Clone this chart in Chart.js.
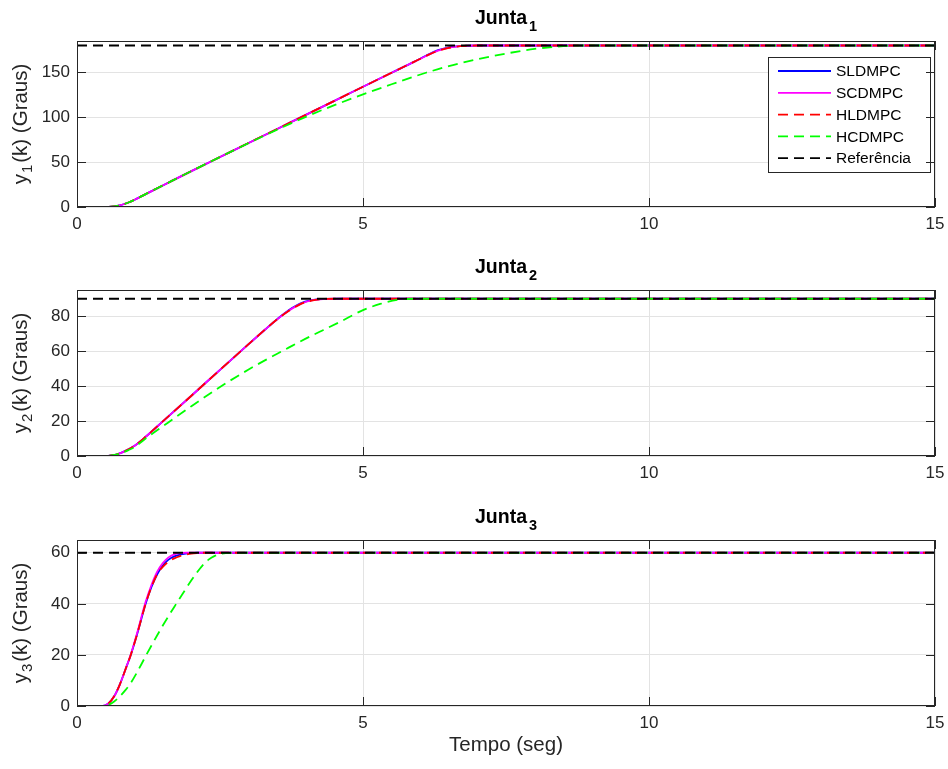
<!DOCTYPE html>
<html>
<head>
<meta charset="utf-8">
<script src="https://cdn.jsdelivr.net/npm/chart.js@4.4.0/dist/chart.umd.min.js"></script>
<style>
  body { margin: 0; background: #fff; }
  #wrap { position: relative; width: 948px; height: 769px; }
  canvas { position: absolute; left: 0; }
</style>
</head>
<body>
<div id="wrap">
  <canvas id="c1" width="948" height="250" style="top:0px"></canvas>
  <canvas id="c2" width="948" height="250" style="top:249px"></canvas>
  <canvas id="c3" width="948" height="270" style="top:499px"></canvas>
</div>
<script>
// ---- data ----
const seriesNames = ['SLDMPC', 'SCDMPC', 'HLDMPC', 'HCDMPC', 'Referência'];
const xTicks = [0, 5, 10, 15];

// Junta 1
const t1 = [0, 0.5, 0.6, 0.7, 0.8, 0.9, 1.0, 1.2, 1.5, 2.0, 2.5, 3.0, 3.5, 4.0, 4.5, 5.0, 5.5, 5.9, 6.1, 6.3, 6.5, 6.7, 7.0, 7.5, 8.0, 8.5, 9.0, 15];
const sl1 = [0, 0, 0.3, 1.2, 2.8, 5, 7.8, 14.4, 24, 40, 55.7, 71.4, 87, 102.7, 118.3, 134, 149.6, 162, 168.5, 174.5, 178, 179.4, 180, 180, 180, 180, 180, 180];
const sc1 = [0, 0, 0.3, 1.2, 2.8, 5, 7.8, 14.4, 24, 40, 55.7, 71.4, 87, 102.7, 118.3, 134, 149.6, 162, 168.3, 174, 177.6, 179.3, 180, 180, 180, 180, 180, 180];
const hl1 = [0, 0, 0.3, 1.2, 2.8, 5, 7.8, 14.4, 24, 40, 55.7, 71.4, 87, 102.7, 118.3, 134, 149.6, 162, 168.3, 173.8, 177.3, 179.2, 180, 180, 180, 180, 180, 180];
const hc1 = [0, 0, 0.3, 1.2, 2.8, 5, 7.8, 14.4, 24, 40, 55.7, 71.2, 86.2, 100.5, 113.5, 125.5, 136.8, 145.5, 149.6, 153.4, 157, 160.2, 164.6, 171, 176.2, 179.2, 180, 180];
const ref1 = 180;

// Junta 2
const t2 = [0, 0.5, 0.6, 0.7, 0.8, 0.9, 1.0, 1.2, 1.5, 2.0, 2.5, 3.0, 3.3, 3.5, 3.7, 3.9, 4.1, 4.3, 4.6, 5.0, 5.3, 5.6, 5.9, 6.2, 15];
const sl2 = [0, 0, 0.3, 1, 2.2, 3.8, 5.7, 11, 19.8, 34.5, 49.3, 64, 72.7, 78.3, 83.4, 87.3, 89.2, 89.9, 90, 90, 90, 90, 90, 90, 90];
const sc2 = [0, 0, 0.3, 1, 2.2, 3.8, 5.7, 11, 19.8, 34.5, 49.3, 64, 72.7, 78.2, 83.1, 86.9, 89, 89.8, 90, 90, 90, 90, 90, 90, 90];
const hl2 = [0, 0, 0.3, 1, 2.2, 3.8, 5.7, 11, 19.8, 34.5, 49.3, 64, 72.7, 78.2, 83, 86.8, 88.9, 89.8, 90, 90, 90, 90, 90, 90, 90];
const hc2 = [0, 0, 0.3, 0.9, 2, 3.4, 5, 10, 17, 28.5, 39.5, 49.5, 55, 58.5, 62, 65.5, 68.8, 72, 76.8, 83.5, 87, 89.3, 90, 90, 90];
const ref2 = 90;

// Junta 3
const t3 = [0, 0.45, 0.55, 0.65, 0.75, 0.85, 0.94, 1.05, 1.2, 1.3, 1.4, 1.5, 1.6, 1.7, 1.8, 1.9, 2.0, 2.1, 2.2, 2.3, 2.4, 2.5, 2.6, 2.8, 15];
const sl3 = [0, 0, 1, 3.8, 8.5, 14.5, 20, 28, 40, 46.5, 51.5, 55, 57.3, 58.6, 59.3, 59.7, 59.9, 60, 60, 60, 60, 60, 60, 60, 60];
const sc3 = [0, 0, 1, 3.8, 8.5, 14.5, 20.2, 28.5, 40.8, 47.3, 52.5, 56, 58.2, 59.4, 59.9, 60, 60, 60, 60, 60, 60, 60, 60, 60, 60];
const hl3 = [0, 0, 1, 3.8, 8.5, 14.5, 20, 28, 40, 46.5, 51.5, 54.5, 56.5, 57.8, 58.7, 59.3, 59.7, 59.9, 60, 60, 60, 60, 60, 60, 60];
const hc3 = [0, 0, 0.5, 1.8, 3.8, 6.3, 9, 13.2, 19.5, 23.6, 27.6, 31.5, 35.2, 38.8, 42.3, 45.8, 49.2, 52.4, 55.2, 57.3, 58.7, 59.5, 59.9, 60, 60];
const ref3 = 60;

// ---- styling ----
const FONT = '"Liberation Sans", Arial, Helvetica, sans-serif';
const AXIS = '#262626';
const GRID = '#e3e3e3';
const TICK = 9;
const LABEL = 20.5;
const colors = ['#0000ff', '#ff00ff', '#ff0000', '#00ff00', '#000000'];
const dashes = [[], [], [10, 6], [10, 6], [10, 6]];

Chart.defaults.font.family = FONT;

function pts(t, v) {
  return t.map((x, i) => ({ x: x, y: v[i] }));
}

function buildSets(t, sl, sc, hl, hc, ref) {
  const vals = [sl, sc, hl, hc];
  const sets = vals.map((v, i) => ({
    label: seriesNames[i],
    data: pts(t, v),
    borderColor: colors[i],
    borderDash: dashes[i],
    borderWidth: 1.8,
    pointRadius: 0,
    cubicInterpolationMode: 'monotone',
    fill: false,
    order: 4 - i
  }));
  sets.push({
    label: seriesNames[4],
    data: pts([0, 15], [ref, ref]),
    borderColor: colors[4],
    borderDash: dashes[4],
    borderWidth: 1.8,
    pointRadius: 0,
    fill: false,
    order: 0
  });
  return sets;
}

// title, y-label (with subscripts), inward ticks, box, legend
const framePlugin = {
  id: 'frame',
  afterDraw(chart, args, o) {
    const { ctx, chartArea: a, scales } = chart;
    ctx.save();

    // legend
    if (o.legend) {
      const L = { x: 768, y: 57, w: 162, h: 115 };
      ctx.fillStyle = '#fff';
      ctx.fillRect(L.x, L.y, L.w, L.h);
      ctx.strokeStyle = AXIS;
      ctx.lineWidth = 1;
      ctx.setLineDash([]);
      ctx.strokeRect(L.x + 0.5, L.y + 0.5, L.w, L.h);
      ctx.font = '15.5px ' + FONT;
      ctx.textBaseline = 'middle';
      ctx.textAlign = 'left';
      chart.data.datasets.forEach((ds, i) => {
        const y = L.y + 14 + i * 21.8;
        ctx.strokeStyle = ds.borderColor;
        ctx.lineWidth = 1.8;
        ctx.setLineDash(ds.borderDash);
        ctx.beginPath();
        ctx.moveTo(778, y);
        ctx.lineTo(831, y);
        ctx.stroke();
        ctx.fillStyle = '#000';
        ctx.fillText(ds.label, 836, y + 1);
      });
      ctx.setLineDash([]);
    }

    // inward ticks + box
    ctx.strokeStyle = AXIS;
    ctx.lineWidth = 1;
    ctx.beginPath();
    scales.x.ticks.forEach(tk => {
      const px = Math.round(scales.x.getPixelForValue(tk.value)) + 0.5;
      ctx.moveTo(px, a.bottom); ctx.lineTo(px, a.bottom - TICK);
      ctx.moveTo(px, a.top); ctx.lineTo(px, a.top + TICK);
    });
    scales.y.ticks.forEach(tk => {
      const py = Math.round(scales.y.getPixelForValue(tk.value)) + 0.5;
      ctx.moveTo(a.left, py); ctx.lineTo(a.left + TICK, py);
      ctx.moveTo(a.right, py); ctx.lineTo(a.right - TICK, py);
    });
    ctx.stroke();
    ctx.strokeRect(a.left + 0.5, a.top + 0.5, a.width - 1, a.height - 1);

    // title "Junta" with subscript
    const cx = (a.left + a.right) / 2;
    ctx.fillStyle = '#000';
    ctx.textBaseline = 'alphabetic';
    ctx.textAlign = 'left';
    ctx.font = 'bold 19.5px ' + FONT;
    const w1 = ctx.measureText(o.title).width;
    ctx.font = 'bold 14.5px ' + FONT;
    const w2 = ctx.measureText(o.sub).width;
    const x0 = cx - (w1 + w2 + 2) / 2;
    const by = a.top - 17;
    ctx.font = 'bold 19.5px ' + FONT;
    ctx.fillText(o.title, x0, by);
    ctx.font = 'bold 14.5px ' + FONT;
    ctx.fillText(o.sub, x0 + w1 + 2, by + 7);

    // y label "y_n(k) (Graus)"
    ctx.fillStyle = AXIS;
    ctx.translate(27, (a.top + a.bottom) / 2);
    ctx.rotate(-Math.PI / 2);
    ctx.font = LABEL + 'px ' + FONT;
    const p1 = ctx.measureText('y').width;
    const p3 = ctx.measureText('(k) (Graus)').width;
    ctx.font = '15px ' + FONT;
    const p2 = ctx.measureText(o.sub).width;
    let x = -(p1 + p2 + p3 + 3) / 2;
    ctx.font = LABEL + 'px ' + FONT;
    ctx.fillText('y', x, 0);
    x += p1 + 1;
    ctx.font = '15px ' + FONT;
    ctx.fillText(o.sub, x, 5);
    x += p2 + 2;
    ctx.font = LABEL + 'px ' + FONT;
    ctx.fillText('(k) (Graus)', x, 0);

    ctx.restore();
  }
};

function makeChart(id, sets, yMax, yStep, sub, legend, xTitle) {
  const canvas = document.getElementById(id);
  const xH = canvas.height - 41 - 166;
  return new Chart(canvas, {
    type: 'line',
    data: { datasets: sets },
    plugins: [framePlugin],
    options: {
      responsive: false,
      animation: false,
      devicePixelRatio: 1,
      layout: { padding: { top: 41, left: 0, right: 13, bottom: 0 } },
      plugins: {
        legend: { display: false },
        tooltip: { enabled: false },
        frame: { title: 'Junta', sub: sub, legend: legend }
      },
      scales: {
        x: {
          type: 'linear',
          min: 0, max: 15,
          afterFit: s => { s.height = xH; s.paddingLeft = 0; s.paddingRight = 0; },
          afterBuildTicks: s => { s.ticks = xTicks.map(v => ({ value: v })); },
          ticks: { color: AXIS, font: { size: 17 }, padding: 7, maxRotation: 0, includeBounds: false },
          grid: { color: GRID, drawTicks: false },
          border: { display: false },
          title: {
            display: !!xTitle, text: xTitle || '', color: AXIS,
            font: { size: LABEL }, padding: { top: 0, bottom: 11 }
          }
        },
        y: {
          min: 0, max: yMax,
          afterFit: s => { s.width = 77; s.paddingTop = 0; s.paddingBottom = 0; },
          ticks: { stepSize: yStep, color: AXIS, font: { size: 17 }, padding: 7, includeBounds: false },
          grid: { color: GRID, drawTicks: false },
          border: { display: false }
        }
      }
    }
  });
}

makeChart('c1', buildSets(t1, sl1, sc1, hl1, hc1, ref1), 185, 50, '1', true, null);
makeChart('c2', buildSets(t2, sl2, sc2, hl2, hc2, ref2), 95, 20, '2', false, null);
makeChart('c3', buildSets(t3, sl3, sc3, hl3, hc3, ref3), 65, 20, '3', false, 'Tempo (seg)');
</script>
</body>
</html>
